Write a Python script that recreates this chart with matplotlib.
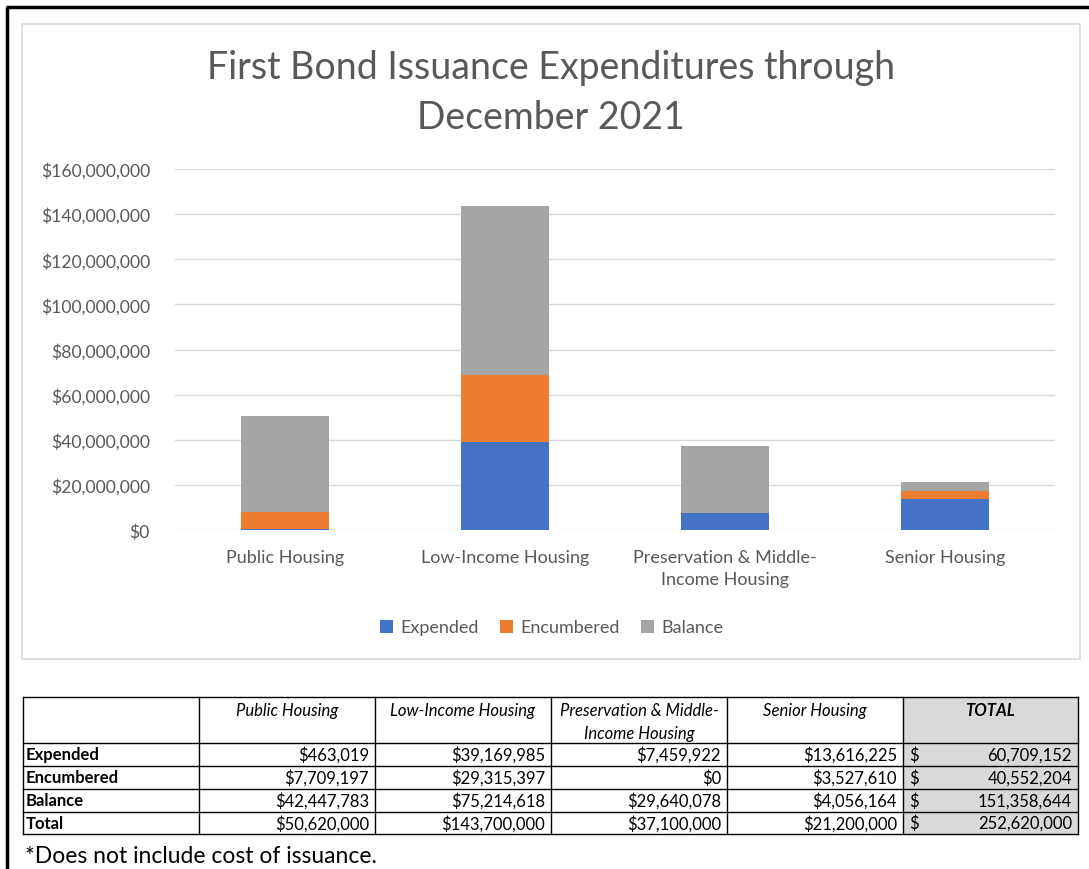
import matplotlib.pyplot as plt
import numpy as np
from matplotlib.patches import Rectangle
from matplotlib.ticker import FuncFormatter

plt.rcParams['font.family'] = ['Lato', 'DejaVu Sans']

# programme data
categories = ['Public Housing', 'Low-Income Housing',
              'Preservation & Middle-\nIncome Housing', 'Senior Housing']
table_headers = ['Public Housing', 'Low-Income Housing',
                 'Preservation & Middle-\nIncome Housing', 'Senior Housing']
expended = [463019, 39169985, 7459922, 13616225]
encumbered = [7709197, 29315397, 0, 3527610]
balance = [42447783, 75214618, 29640078, 4056164]
category_totals = [50620000, 143700000, 37100000, 21200000]
row_totals = [60709152, 40552204, 151358644, 252620000]
row_names = ['Expended', 'Encumbered', 'Balance', 'Total']

colors = {'Expended': '#4472C4', 'Encumbered': '#ED7D31', 'Balance': '#A5A5A5'}
text_gray = '#595959'

W, H = 1089, 870
fig = plt.figure(figsize=(W / 100, H / 100), dpi=100)

# overlay in pixel coordinates for frames and the table
ov = fig.add_axes([0, 0, 1, 1])
ov.set_xlim(0, W)
ov.set_ylim(H, 0)
ov.axis('off')
ov.plot([7, 7], [8, H], color='black', lw=2.5, solid_capstyle='butt')
ov.plot([6, W], [8, 8], color='black', lw=2.5, solid_capstyle='butt')
ov.add_patch(Rectangle((22, 25), 1058, 635, fill=False, ec='#d9d9d9', lw=1.2))

# stacked bar chart
ax = fig.add_axes([175 / W, 1 - 531 / H, 880 / W, 361 / H])
x = np.arange(len(categories))
ax.bar(x, expended, width=0.4, color=colors['Expended'], label='Expended', zorder=3)
ax.bar(x, encumbered, width=0.4, bottom=expended, color=colors['Encumbered'],
       label='Encumbered', zorder=3)
bottom2 = np.array(expended) + np.array(encumbered)
ax.bar(x, balance, width=0.4, bottom=bottom2, color=colors['Balance'],
       label='Balance', zorder=3)

ax.set_xlim(-0.5, len(categories) - 0.5)
ax.set_ylim(0, 160_000_000)
ax.set_yticks(np.arange(0, 160_000_001, 20_000_000))
ax.yaxis.set_major_formatter(FuncFormatter(lambda v, p: f'${v:,.0f}'))
ax.grid(axis='y', color='#d9d9d9', lw=1, zorder=0)
for s in ax.spines.values():
    s.set_visible(False)
ax.tick_params(axis='both', length=0, labelsize=13, colors=text_gray)
ax.tick_params(axis='y', labelsize=12.6, pad=18)
ax.tick_params(axis='x', pad=14)
ax.set_xticks(x)
ax.set_xticklabels(categories, va='top', linespacing=1.4)

fig.text(551 / W, 1 - 93 / H, 'First Bond Issuance Expenditures through\nDecember 2021',
         ha='center', va='center', fontsize=27, color=text_gray, linespacing=1.5)

leg = ax.legend(loc='center', bbox_to_anchor=(0.428, -0.27), ncol=3, frameon=False,
                fontsize=13, handlelength=0.72, handleheight=0.72,
                columnspacing=1.2, handletextpad=0.4)
for t in leg.get_texts():
    t.set_color(text_gray)

# table below the chart
col_x = [23, 199, 375, 551, 727, 903, 1078]
row_y = [698, 744, 767, 790, 813, 835]
ov.add_patch(Rectangle((col_x[5], row_y[0]), col_x[6] - col_x[5], row_y[-1] - row_y[0],
                       color='#d9d9d9', lw=0))
for cx in col_x:
    ov.plot([cx, cx], [row_y[0], row_y[-1]], color='black', lw=1)
for ry in row_y:
    ov.plot([col_x[0], col_x[-1]], [ry, ry], color='black', lw=1)

fs = 12
for j, h in enumerate(table_headers):
    ov.text((col_x[j + 1] + col_x[j + 2]) / 2, row_y[0] + 5, h, ha='center', va='top',
            fontsize=fs, style='italic', linespacing=1.55)
ov.text((col_x[5] + col_x[6]) / 2, row_y[0] + 5, 'TOTAL', ha='center', va='top',
        fontsize=fs, style='italic', weight='bold')

rows = [expended, encumbered, balance, category_totals]
for i, (name, vals) in enumerate(zip(row_names, rows)):
    yc = (row_y[i + 1] + row_y[i + 2]) / 2
    ov.text(col_x[0] + 3, yc, name, ha='left', va='center', fontsize=fs, weight='bold')
    for j, v in enumerate(vals):
        ov.text(col_x[j + 2] - 6, yc, f'${v:,.0f}', ha='right', va='center', fontsize=fs)
    ov.text(col_x[5] + 6, yc, '$', ha='left', va='center', fontsize=fs)
    ov.text(col_x[6] - 6, yc, f'{row_totals[i]:,.0f}', ha='right', va='center', fontsize=fs)

ov.text(25, 857, '*Does not include cost of issuance.', ha='left', va='center', fontsize=16.5)

fig.savefig('out.png', dpi=100)
